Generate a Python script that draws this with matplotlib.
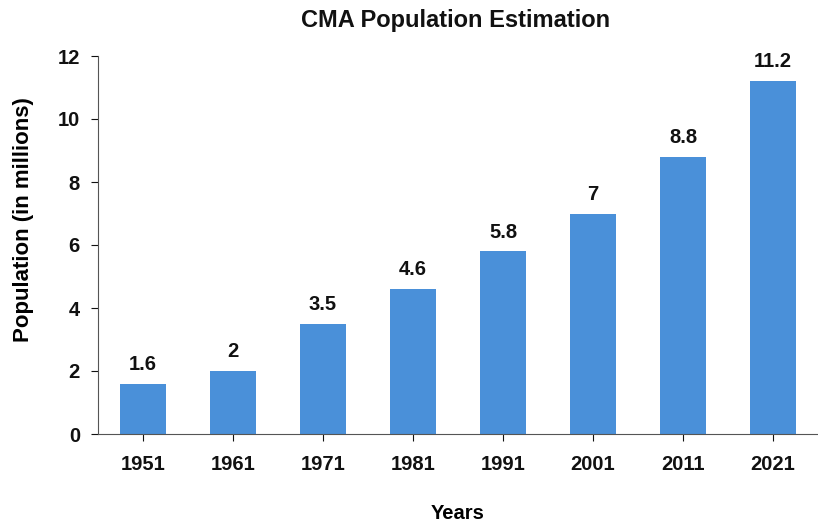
import matplotlib
matplotlib.use("Agg")
import matplotlib.pyplot as plt

years = ["1951", "1961", "1971", "1981", "1991", "2001", "2011", "2021"]
population = [1.6, 2, 3.5, 4.6, 5.8, 7, 8.8, 11.2]
value_labels = ["1.6", "2", "3.5", "4.6", "5.8", "7", "8.8", "11.2"]
y_ticks = [0, 2, 4, 6, 8, 10, 12]

plt.rcParams['font.family'] = ['Liberation Sans', 'DejaVu Sans']
plt.rcParams['font.weight'] = 'bold'

fig = plt.figure(figsize=(8.18, 5.22), dpi=100)
ax = fig.add_axes([98/818, 88/522, 720/818, (434-56)/522])

x = list(range(len(years)))
bars = ax.bar(x, population, width=0.52, color="#4a90d9")
for xi, v, lab in zip(x, population, value_labels):
    ax.annotate(lab, (xi, v), xytext=(0, 7), textcoords="offset points",
                ha="center", va="bottom", fontsize=14.5, fontweight="bold", color="#111111")

ax.set_xlim(-0.5, 7.5)
ax.set_ylim(0, 12)
ax.set_yticks(y_ticks)
ax.set_yticklabels([str(t) for t in y_ticks])
ax.set_xticks(x)
ax.set_xticklabels(years)
ax.tick_params(axis='both', labelsize=14.5, colors="#111111", length=5, width=0.8)
ax.tick_params(axis='x', pad=10)
ax.tick_params(axis='y', pad=8)
for lab in ax.get_xticklabels() + ax.get_yticklabels():
    lab.set_fontweight('bold')

ax.spines['top'].set_visible(False)
ax.spines['right'].set_visible(False)
ax.spines['left'].set_color("#555555")
ax.spines['bottom'].set_color("#555555")

ax.set_xlabel("Years", fontsize=14.5, fontweight="bold", labelpad=22)
ax.set_ylabel("Population (in millions)", fontsize=16, fontweight="bold")
ax.yaxis.set_label_coords(-64/720, (434-220)/378)
fig.text(456/818, 1 - 20/522, "CMA Population Estimation", ha="center", va="center",
         fontsize=17, fontweight="bold", color="#111111")

fig.savefig("out.png", dpi=100)
